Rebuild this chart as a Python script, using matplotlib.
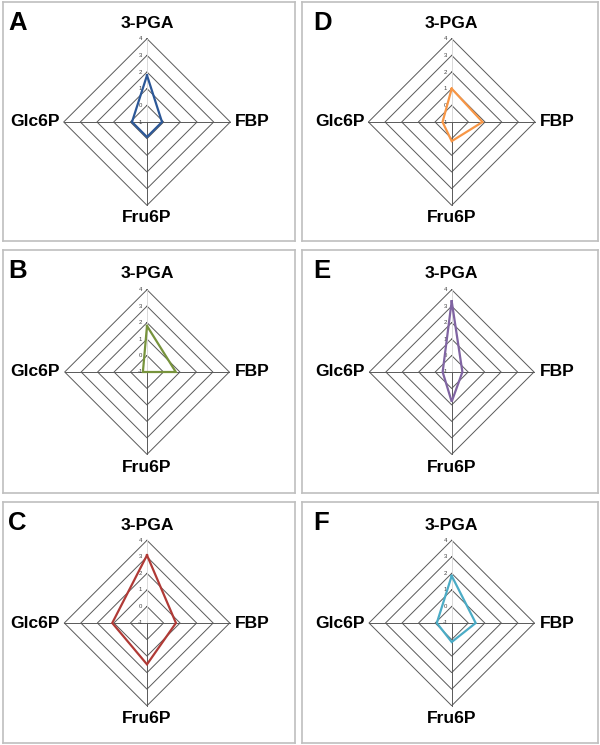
import numpy as np
import matplotlib
matplotlib.use("Agg")
import matplotlib.pyplot as plt

plt.rcParams['font.family'] = ['Liberation Sans', 'DejaVu Sans']

categories = ['3-PGA', 'FBP', 'Fru6P', 'Glc6P']
ticks = [-1, 0, 1, 2, 3, 4]
panel_letters = ['A', 'B', 'C', 'D', 'E', 'F']
vals_A = [1.8, -0.1, -0.1, -0.1]
vals_B = [1.8, 0.75, -1.0, -0.75]
vals_C = [3.1, 0.75, 1.5, 1.1]
vals_D = [1.0, 0.85, 0.15, -0.45]
vals_E = [3.3, -0.35, 0.8, -0.45]
vals_F = [1.85, 0.45, 0.15, -0.1]
series = [vals_A, vals_B, vals_C, vals_D, vals_E, vals_F]
colors = ['#2B5797', '#77933C', '#B03A36', '#F79646', '#8064A2', '#4BACC6']

W, H = 600, 745
fig = plt.figure(figsize=(W / 100, H / 100), dpi=100)

col_boxes = [(3, 295), (302, 598)]
row_boxes = [(2, 241), (250, 493), (502, 743)]
col_cx = [147, 451.7]
row_cy = [122, 372, 623]
row_rad = [83.3, 82.3, 82.7]

angles = np.deg2rad([90, 0, -90, 180])
rmin, rmax = ticks[0], ticks[-1]

def to_xy(v, ang):
    r = np.asarray(v, float) - rmin
    return r * np.cos(ang), r * np.sin(ang)

for idx in range(6):
    col = idx // 3
    row = idx % 3
    x0, x1 = col_boxes[col]
    y0, y1 = row_boxes[row]
    cx, cy = col_cx[col], row_cy[row]
    s = row_rad[row] / (rmax - rmin)
    ax = fig.add_axes([x0 / W, 1 - y1 / H, (x1 - x0) / W, (y1 - y0) / H])
    ax.set_xlim((x0 - cx) / s, (x1 - cx) / s)
    ax.set_ylim(-(y1 - cy) / s, (cy - y0) / s)
    ax.set_xticks([])
    ax.set_yticks([])
    for sp in ax.spines.values():
        sp.set_color('#BFBFBF')
        sp.set_linewidth(1.2)

    # rings
    for t in ticks[1:]:
        xs, ys = to_xy([t] * 5, np.append(angles, angles[0]))
        ax.plot(xs, ys, color='#595959', lw=0.7, zorder=1)
    # spokes
    for k, ang in enumerate(angles):
        xs, ys = to_xy([rmin, rmax], np.array([ang, ang]))
        ax.plot(xs, ys, color='#D9D9D9' if k == 0 else '#595959', lw=0.7, zorder=1)
    # tick labels
    for t in ticks:
        ax.text(-6.5 / s, t - rmin, str(t), fontsize=4.3, color='#404040',
                ha='center', va='center', zorder=2)
    # data polygon
    v = series[idx]
    xs, ys = to_xy(v + [v[0]], np.append(angles, angles[0]))
    ax.plot(xs, ys, color=colors[idx], lw=1.6, zorder=3, solid_joinstyle='miter')

    # category labels
    fs = 12.6
    ax.text(0, 98 / s, categories[0], fontsize=fs, fontweight='bold', ha='center', va='center')
    ax.text(88 / s, 0, categories[1], fontsize=fs, fontweight='bold', ha='left', va='center')
    ax.text(0, -95.5 / s, categories[2], fontsize=fs, fontweight='bold', ha='center', va='center')
    ax.text(-87 / s, 0, categories[3], fontsize=fs, fontweight='bold', ha='right', va='center')

    lx = 8 if col == 0 else 313
    ax.text((lx - x0) / (x1 - x0), 1 - 9 / (y1 - y0), panel_letters[idx],
            transform=ax.transAxes, fontsize=18.5, fontweight='bold', ha='left', va='top')

fig.savefig('out.png', dpi=100)
